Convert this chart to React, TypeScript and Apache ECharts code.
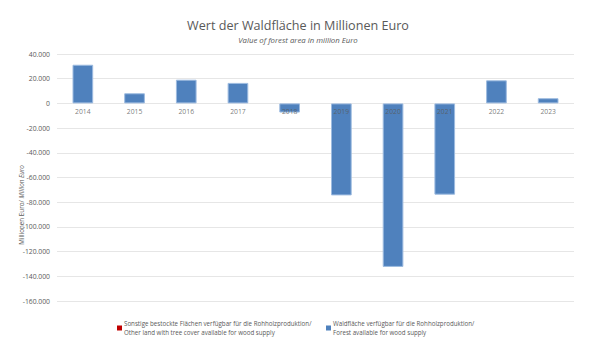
import React, { useEffect, useRef } from "react";
import * as echarts from "echarts";

const years = ["2014", "2015", "2016", "2017", "2018", "2019", "2020", "2021", "2022", "2023"];
const otherLand: (number | null)[] = [null, null, null, null, null, null, null, null, null, null];
const forest = [31300, 8200, 19200, 16600, -7400, -74500, -132400, -73900, 18700, 4200];

const titleText = "Wert der Waldfläche in Millionen Euro";
const subtitleText = "Value of forest area in million Euro";
const nameOther = "Sonstige bestockte Flächen verfügbar für die Rohholzproduktion/\nOther land with tree cover available for wood supply";
const nameForest = "Waldfläche verfügbar für die Rohholzproduktion/\nForest available for wood supply";
const axisNameA = "Millionen Euro/ ";
const axisNameB = "Million Euro";

const FONT = "'Open Sans', 'Noto Sans', sans-serif";
const GREY = "#595959";

function fmt(v: number): string {
  const s = Math.abs(v).toString().replace(/\B(?=(\d{3})+(?!\d))/g, ".");
  return (v < 0 ? "-" : "") + s;
}

export default function App() {
  const ref = useRef<HTMLDivElement>(null);
  useEffect(() => {
    if (!ref.current) return;
    const chart = echarts.init(ref.current, undefined, { renderer: "svg" });
    chart.setOption({
      animation: false,
      backgroundColor: "#ffffff",
      title: [
        {
          text: titleText,
          left: "center",
          top: 14,
          textStyle: { fontFamily: FONT, fontSize: 12.6, fontWeight: "normal", color: GREY },
        },
        {
          text: subtitleText,
          left: "center",
          top: 31,
          textStyle: { fontFamily: FONT, fontSize: 7.8, fontStyle: "italic", fontWeight: "normal", color: GREY },
        },
      ],
      legend: [
        {
          data: [nameOther],
          left: 117,
          top: 319,
          itemWidth: 5,
          itemHeight: 5,
          itemGap: 0,
          icon: "rect",
          padding: 0,
          itemStyle: { borderWidth: 0 },
          textStyle: { fontFamily: FONT, fontSize: 6.2, color: GREY, lineHeight: 9, padding: [0, 0, 0, -3] },
        },
        {
          data: [nameForest],
          left: 326,
          top: 319,
          itemWidth: 5,
          itemHeight: 5,
          itemGap: 0,
          icon: "rect",
          padding: 0,
          itemStyle: { borderWidth: 0 },
          textStyle: { fontFamily: FONT, fontSize: 6.2, color: GREY, lineHeight: 9, padding: [0, 0, 0, -3] },
        },
      ],
      graphic: [
        {
          type: "text",
          x: 21,
          y: 205,
          rotation: Math.PI / 2,
          style: {
            text: "{a|" + axisNameA + "}{b|" + axisNameB + "}",
            align: "center",
            verticalAlign: "middle",
            rich: {
              a: { fontFamily: FONT, fontSize: 6.3, fill: GREY },
              b: { fontFamily: FONT, fontSize: 6.3, fill: GREY, fontStyle: "italic" },
            },
          },
        },
      ],
      grid: { left: 57, right: 22, top: 54, bottom: 52, containLabel: false },
      xAxis: {
        type: "category",
        data: years,
        axisLine: { show: false },
        axisTick: { show: false },
        axisLabel: { show: false },
      },
      yAxis: {
        type: "value",
        min: -160000,
        max: 40000,
        interval: 20000,
        axisLine: { show: false },
        axisTick: { show: false },
        splitLine: { lineStyle: { color: "#e6e6e6", width: 1 } },
        axisLabel: {
          fontFamily: FONT,
          fontSize: 6.8,
          color: GREY,
          margin: 7,
          formatter: (v: number) => fmt(v),
        },
      },
      series: [
        {
          name: nameOther,
          type: "bar",
          stack: "s",
          data: otherLand,
          itemStyle: { color: "#c00000" },
          barWidth: "40%",
        },
        {
          name: nameForest,
          type: "bar",
          stack: "s",
          data: forest,
          barWidth: "40%",
          itemStyle: { color: "#4f81bd", borderColor: "#9dbbe0", borderWidth: 1 },
        },
        {
          name: "labels",
          type: "scatter",
          data: years.map((y) => [y, 0]),
          symbolSize: 0,
          z: 10,
          silent: true,
          label: {
            show: true,
            position: "bottom",
            distance: 5,
            formatter: (p: any) => p.value[0],
            fontFamily: FONT,
            fontSize: 6.8,
            color: GREY,
          },
        },
      ],
    });
    return () => chart.dispose();
  }, []);
  return <div ref={ref} style={{ position: "absolute", left: 0, top: 0, width: 596, height: 353 }} />;
}
